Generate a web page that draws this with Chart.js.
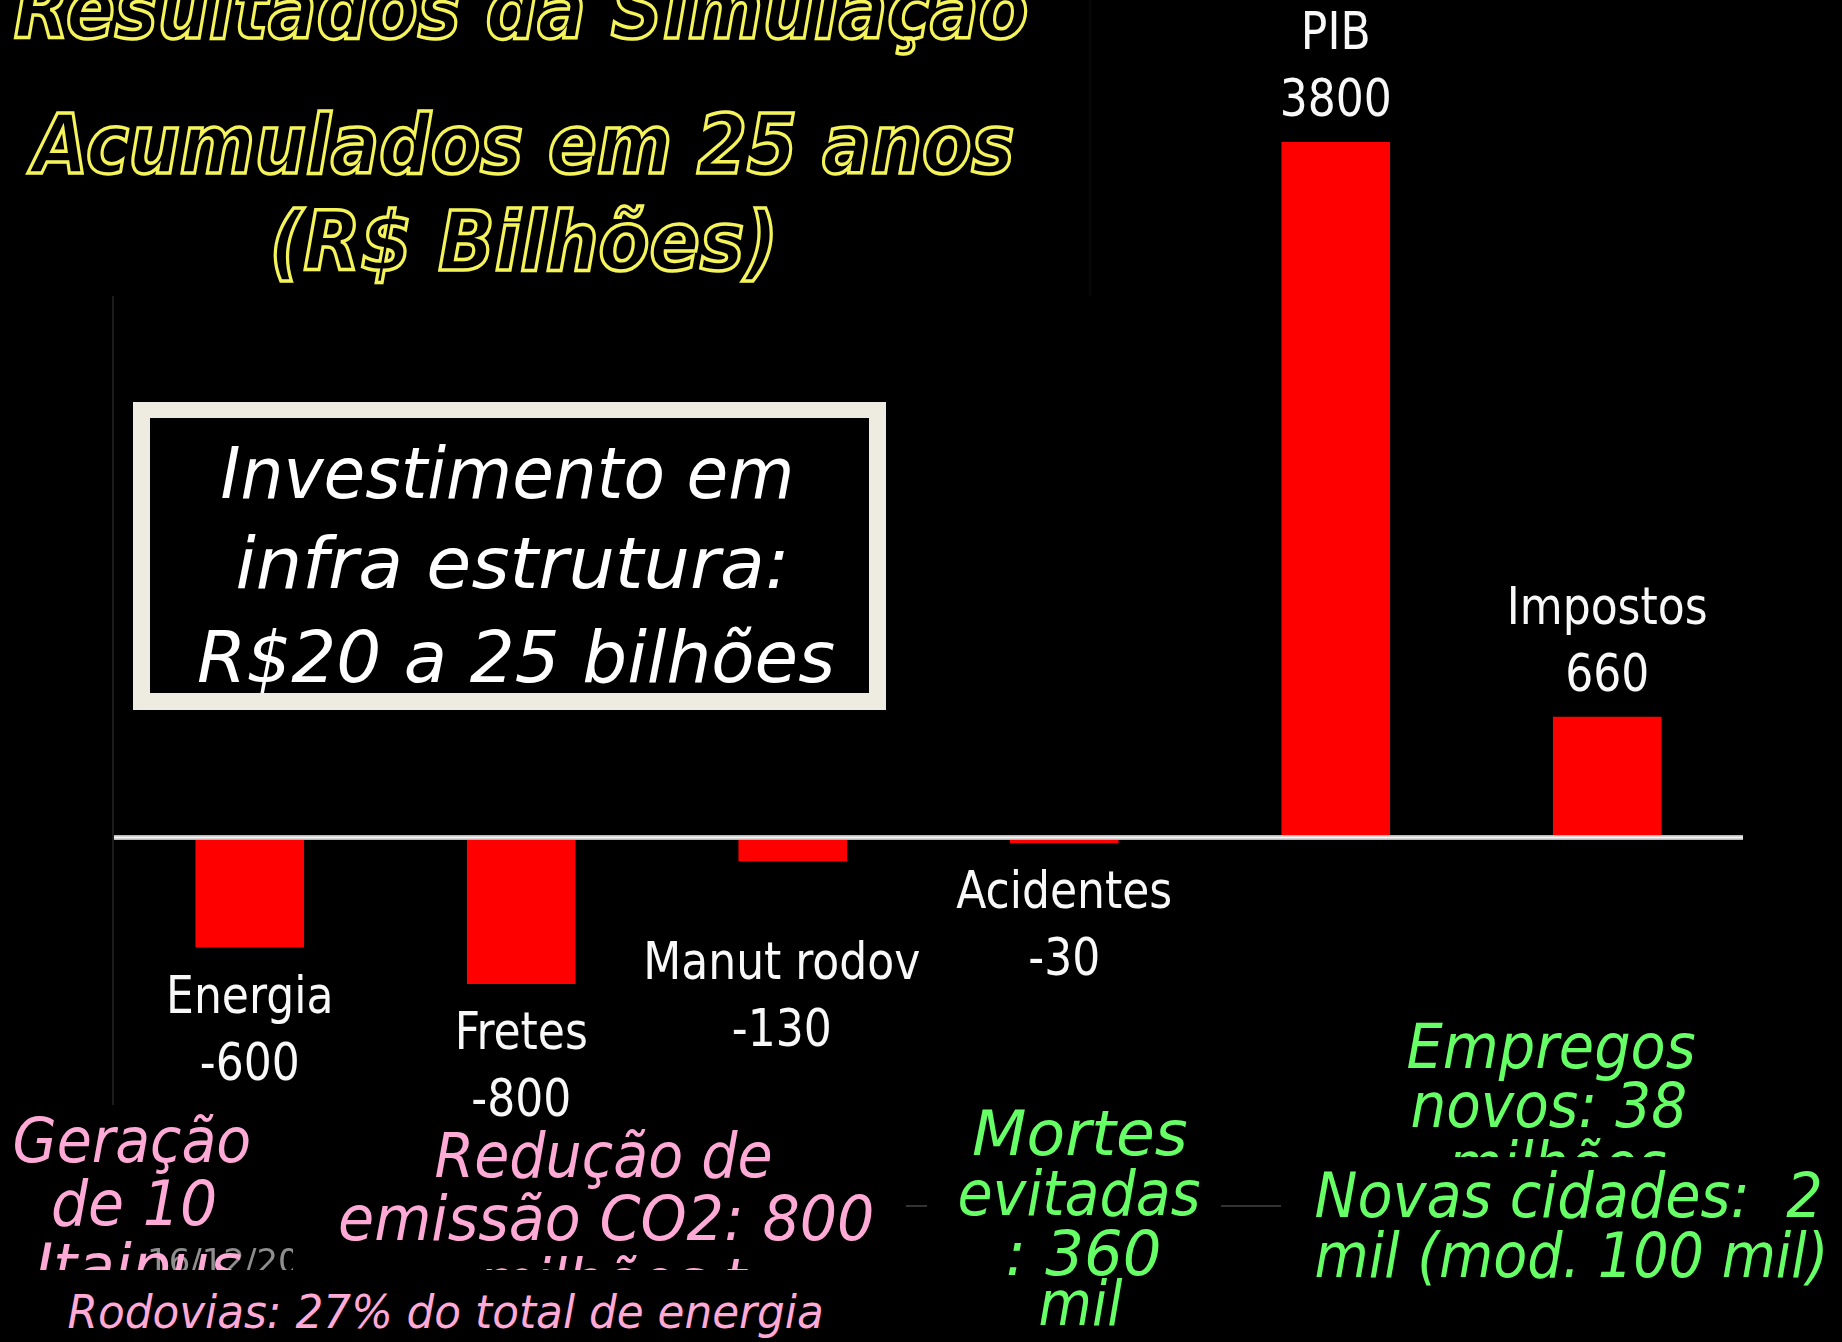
<!DOCTYPE html>
<html>
<head>
<meta charset="utf-8">
<script src="https://cdn.jsdelivr.net/npm/chart.js@4"></script>
<style>
  html, body { margin: 0; padding: 0; background: #000; }
  body { width: 1842px; height: 1342px; position: relative; overflow: hidden; }
  #c { position: absolute; left: 0; top: 0; z-index: 0; }
  .box { position: absolute; }
  .t { position: absolute; white-space: pre; left: 0; top: 0; line-height: 1.2; transform-origin: 50% 50%; }
  .mk { display: inline-block; width: 0; height: 0; vertical-align: baseline; }
</style>
</head>
<body>
<canvas id="c" width="1842" height="1342"></canvas>
<script>
// ---- data ----
const categories = ['Energia', 'Fretes', 'Manut rodov', 'Acidentes', 'PIB', 'Impostos'];
const values = [-600, -800, -130, -30, 3800, 660];
const yMin = -1450;
const yMax = 3800;

const titleLines = ['Resultados da Simulação', 'Acumulados em 25 anos', '(R$ Bilhões)'];
const boxLines = ['Investimento em', 'infra estrutura:', 'R$20 a 25 bilhões'];
const geracaoLines = ['Geração', 'de 10', 'Itaipus'];
const reducaoLines = ['Redução de', 'emissão CO2: 800', 'milhões t'];
const rodoviasLine = 'Rodovias: 27% do total de energia';
const mortesLines = ['Mortes', 'evitadas', ': 360', 'mil'];
const empregosLines = ['Empregos', 'novos: 38', 'milhões'];
const cidadesLines = ['Novas cidades:  2', 'mil (mod. 100 mil)'];
const footerDate = '16/12/2007';

// ---- chart ----
const labelPlugin = {
  id: 'barLabels',
  afterDatasetsDraw(chart, args, opts) {
    const ctx = chart.ctx, area = chart.chartArea;
    const y0 = chart.scales.y.getPixelForValue(0);
    ctx.save();
    // vertical axis (faint)
    ctx.strokeStyle = '#1c1c1c'; ctx.lineWidth = 2;
    ctx.beginPath(); ctx.moveTo(area.left - 1, area.top); ctx.lineTo(area.left - 1, area.bottom + 2); ctx.stroke();
    // zero line
    ctx.strokeStyle = '#b8b8b8'; ctx.lineWidth = 5;
    ctx.beginPath(); ctx.moveTo(area.left, y0); ctx.lineTo(area.right, y0); ctx.stroke();
    ctx.strokeStyle = '#f4f4f4'; ctx.lineWidth = 2;
    ctx.beginPath(); ctx.moveTo(area.left, y0); ctx.lineTo(area.right, y0); ctx.stroke();
    // labels
    const meta = chart.getDatasetMeta(0);
    ctx.font = opts.font;
    ctx.fillStyle = opts.color;
    ctx.textAlign = 'center';
    ctx.textBaseline = 'middle';
    const draw = (t, x, y) => {
      ctx.save(); ctx.translate(x, y); ctx.scale(opts.squeeze, 1); ctx.fillText(t, 0, 0); ctx.restore();
    };
    meta.data.forEach((bar, i) => {
      const v = values[i];
      const sh = opts.shift[i] || { dx: 0, dy: 0 };
      let nameY, valY;
      if (v < 0) { nameY = bar.y + opts.gapDown + sh.dy; valY = nameY + opts.lineGap; }
      else { valY = bar.y - opts.gapUp + sh.dy; nameY = valY - opts.lineGap; }
      const x = bar.x + sh.dx;
      draw(categories[i], x, nameY);
      draw(String(v), x, valY);
    });
    ctx.restore();
  }
};

new Chart(document.getElementById('c'), {
  type: 'bar',
  data: {
    labels: categories,
    datasets: [{
      data: values,
      backgroundColor: '#ff0000',
      borderWidth: 0,
      barPercentage: 0.4,
      categoryPercentage: 1.0
    }]
  },
  options: {
    responsive: false,
    animation: false,
    devicePixelRatio: 1,
    layout: { padding: { left: 114, right: 99, top: 142, bottom: 239 } },
    scales: {
      x: { display: false },
      y: { display: false, min: yMin, max: yMax }
    },
    plugins: {
      legend: { display: false },
      tooltip: { enabled: false },
      barLabels: {
        font: '51px "DejaVu Sans Condensed", "DejaVu Sans", sans-serif',
        color: '#f8f8f8',
        squeeze: 0.96,
        gapDown: 52,
        gapUp: 39,
        lineGap: 67,
        shift: { 2: { dx: -11, dy: 52 } }
      }
    }
  },
  plugins: [labelPlugin]
});

// ---- overlay text (real HTML text) ----
function addBox(x, y, w, h, bg, z) {
  const d = document.createElement('div');
  d.className = 'box';
  Object.assign(d.style, { left: x + 'px', top: y + 'px', width: w + 'px', height: h + 'px', background: bg, zIndex: z });
  document.body.appendChild(d);
  return d;
}
function addText(text, cx, base, w, size, style, z) {
  const d = document.createElement('div');
  d.className = 't';
  d.textContent = text;
  const mk = document.createElement('span');
  mk.className = 'mk';
  d.appendChild(mk);
  d.style.fontSize = size + 'px';
  Object.assign(d.style, style);
  d.style.zIndex = z;
  document.body.appendChild(d);
  const nw = d.offsetWidth;
  const bo = mk.offsetTop;
  d.style.left = (cx - nw / 2) + 'px';
  d.style.top = (base - bo) + 'px';
  if (w) d.style.transform = 'scaleX(' + (w / nw) + ')';
  return d;
}

const titleStyle = { fontFamily: '"DejaVu Sans", sans-serif', fontWeight: 'bold', fontStyle: 'italic', color: '#000', webkitTextStroke: '3.5px #f4f45a' };
const italic = { fontFamily: '"DejaVu Sans", sans-serif', fontStyle: 'italic' };
const pink = Object.assign({ color: '#ffaad6' }, italic);
const green = Object.assign({ color: '#66ff66' }, italic);
const white = Object.assign({ color: '#ffffff' }, italic);

// title area (covers top of axis)
addBox(0, 0, 1090, 296, '#000', 2);
addBox(1089, 0, 2, 296, '#070707', 2);
addText(titleLines[0], 521, 38, 1014, 82, titleStyle, 3);
addText(titleLines[1], 523, 173, 982, 82, titleStyle, 3);
addText(titleLines[2], 524, 270, 509, 82, titleStyle, 3);

// investment box
addBox(133, 402, 753, 308, '#eeebe0', 2);
addBox(150, 418, 719, 275, '#000', 2);
addText(boxLines[0], 507, 498, 574, 71, white, 3);
addText(boxLines[1], 512, 588, 554, 71, white, 3);
addText(boxLines[2], 516, 682, 638, 71, white, 3);

// footer fragments (behind)
addBox(906, 1205, 375, 2, '#333', 2);
addText(footerDate, 245, 1273, 0, 34, { fontFamily: '"DejaVu Sans", sans-serif', color: '#8e8e8e' }, 2);

// Geração (transparent)
addText(geracaoLines[0], 132, 1162, 239, 62, pink, 3);
addText(geracaoLines[1], 134, 1225, 166, 62, pink, 3);
addText(geracaoLines[2], 138, 1288, 207, 62, pink, 3);

// Redução box
addBox(293, 1120, 613, 150, '#000', 4);
addText(reducaoLines[0], 603, 1177, 338, 62, pink, 5);
addText(reducaoLines[1], 606, 1240, 536, 62, pink, 5);
addText(reducaoLines[2], 612, 1303, 268, 62, pink, 5);

// Mortes box
addBox(927, 1100, 294, 242, '#000', 4);
addText(mortesLines[0], 1080, 1155, 216, 62, green, 5);
addText(mortesLines[1], 1079, 1215, 243, 62, green, 5);
addText(mortesLines[2], 1083, 1275, 156, 62, green, 5);
addText(mortesLines[3], 1080, 1325, 84, 62, green, 5);

// Empregos
addText(empregosLines[0], 1551, 1068, 289, 62, green, 5);
addText(empregosLines[1], 1549, 1127, 277, 62, green, 5);
addText(empregosLines[2], 1557, 1186, 219, 62, green, 5);

// Novas cidades box
addBox(1281, 1157, 561, 150, '#000', 6);
addText(cidadesLines[0], 1568, 1217, 508, 62, green, 7);
addText(cidadesLines[1], 1571, 1277, 514, 62, green, 7);

// Rodovias box (covers bottom strip)
addBox(0, 1270, 906, 72, '#000', 8);
addText(rodoviasLine, 445, 1328, 756, 46, pink, 9);
</script>
</body>
</html>
